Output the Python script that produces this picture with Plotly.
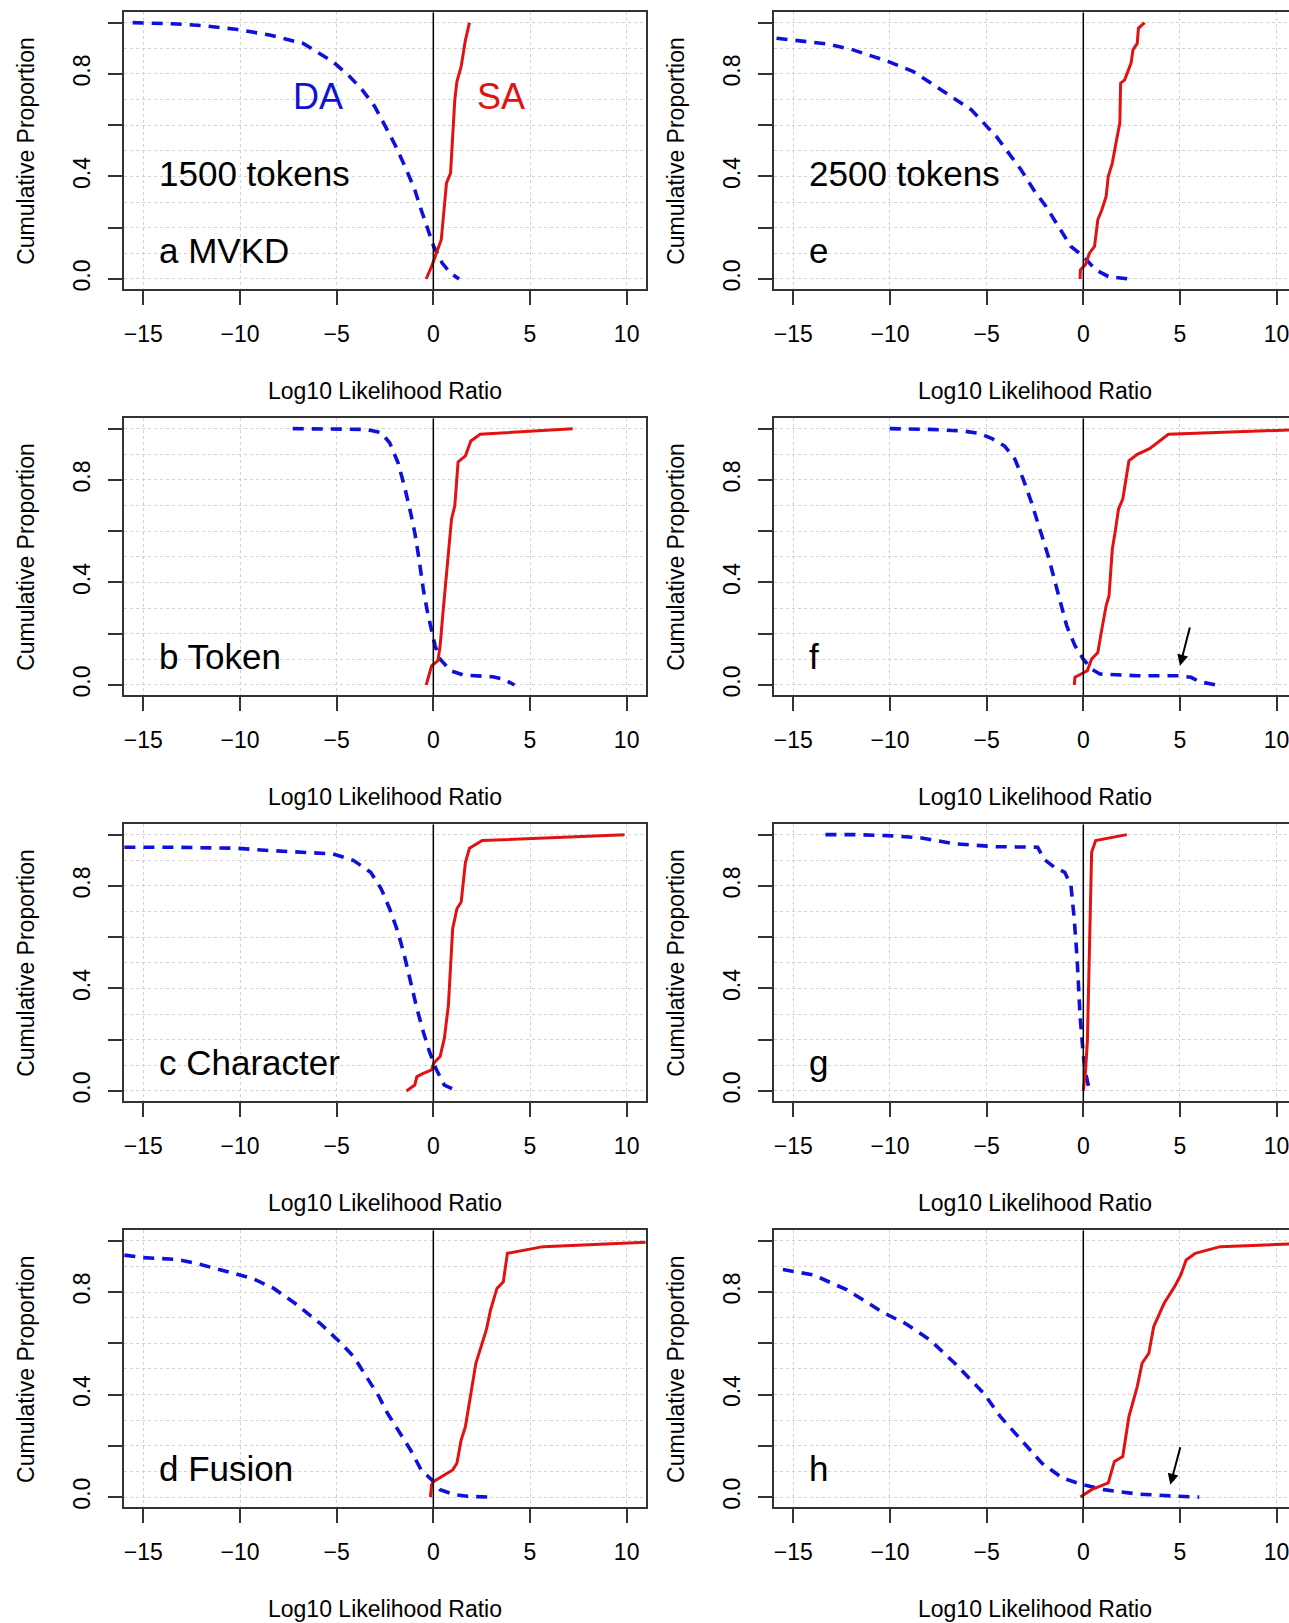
import plotly.graph_objects as go

FIG_W, FIG_H = 1289, 1623

X_TICKS = [-15, -10, -5, 0, 5, 10]
Y_TICKS = [0, 0.2, 0.4, 0.6, 0.8, 1.0]
Y_TICK_TEXT = ["0.0", "", "0.4", "", "0.8", ""]
Y_MINOR = [0.1, 0.3, 0.5, 0.7, 0.9]

PANEL_LABELS = ["a MVKD", "b Token", "c Character", "d Fusion", "e", "f", "g", "h"]
TOKEN_LABELS = ["1500 tokens", "2500 tokens"]
X_TITLE = "Log10 Likelihood Ratio"
Y_TITLE = "Cumulative Proportion"

# ---- panel a (MVKD, 1500 tokens)
A_DA_X = [-15.55, -13.26, -11.74, -10.21, -8.47, -6.73, -5.20, -4.33, -3.68, -3.03, -2.48, -1.94, -1.39, -0.96, -0.63, -0.30, 0.02, 0.46, 0.89, 1.33]
A_DA_Y = [1.0, 0.995, 0.987, 0.974, 0.952, 0.919, 0.848, 0.79, 0.738, 0.673, 0.595, 0.517, 0.426, 0.348, 0.27, 0.192, 0.127, 0.062, 0.023, 0.0]
A_SA_X = [-0.37, -0.09, 0.13, 0.41, 0.57, 0.68, 0.89, 1.0, 1.11, 1.22, 1.44, 1.66, 1.87]
A_SA_Y = [0.0, 0.049, 0.095, 0.153, 0.283, 0.374, 0.413, 0.569, 0.699, 0.77, 0.829, 0.932, 1.0]

# ---- panel b (Token, 1500 tokens)
B_DA_X = [-7.27, -3.46, -2.70, -2.26, -1.83, -1.50, -1.18, -0.96, -0.74, -0.52, -0.30, -0.09, 0.09, 0.35, 0.89, 1.55, 3.07, 3.62, 4.20]
B_DA_Y = [1.0, 0.997, 0.984, 0.945, 0.868, 0.777, 0.673, 0.595, 0.491, 0.374, 0.283, 0.218, 0.153, 0.101, 0.056, 0.039, 0.032, 0.023, 0.0]
B_SA_X = [-0.37, -0.09, 0.24, 0.35, 0.50, 0.68, 0.85, 0.94, 1.11, 1.28, 1.66, 1.87, 1.94, 2.42, 7.21]
B_SA_Y = [0.0, 0.075, 0.095, 0.153, 0.283, 0.439, 0.569, 0.647, 0.699, 0.87, 0.894, 0.932, 0.952, 0.978, 1.0]

# ---- panel c (Character, 1500 tokens)
C_DA_X = [-15.98, -13.70, -10.21, -8.47, -5.20, -4.12, -3.24, -2.70, -2.26, -1.83, -1.50, -1.18, -0.85, -0.52, -0.20, 0.13, 0.57, 1.22]
C_DA_Y = [0.951, 0.951, 0.947, 0.938, 0.925, 0.899, 0.853, 0.789, 0.711, 0.62, 0.529, 0.425, 0.322, 0.231, 0.153, 0.088, 0.023, 0.0]
C_SA_X = [-1.39, -0.96, -0.85, -0.52, -0.09, 0.02, 0.35, 0.57, 0.78, 1.0, 1.22, 1.44, 1.66, 1.87, 2.53, 9.89]
C_SA_Y = [0.0, 0.023, 0.056, 0.069, 0.082, 0.108, 0.134, 0.205, 0.335, 0.633, 0.711, 0.737, 0.892, 0.947, 0.977, 1.0]

# ---- panel d (Fusion, 1500 tokens)
D_DA_X = [-15.98, -15.0, -13.26, -12.39, -11.08, -9.34, -8.25, -7.16, -5.86, -4.77, -4.12, -3.46, -2.81, -2.37, -1.72, -1.18, -0.63, -0.09, 0.35, 1.11, 1.76, 2.96]
D_DA_Y = [0.944, 0.934, 0.927, 0.914, 0.888, 0.853, 0.814, 0.756, 0.678, 0.6, 0.548, 0.47, 0.392, 0.327, 0.249, 0.184, 0.106, 0.068, 0.029, 0.009, 0.003, 0.0]
D_SA_X = [-0.15, -0.09, 0.02, 0.46, 1.0, 1.22, 1.44, 1.66, 1.87, 2.20, 2.74, 2.96, 3.29, 3.62, 3.83, 5.68, 10.98]
D_SA_Y = [0.0, 0.048, 0.061, 0.081, 0.106, 0.132, 0.223, 0.275, 0.366, 0.522, 0.652, 0.73, 0.814, 0.84, 0.951, 0.977, 0.994]

# ---- panel e (MVKD, 2500 tokens)
E_DA_X = [-15.87, -14.37, -13.29, -12.0, -10.08, -8.79, -7.08, -5.79, -5.15, -4.50, -3.86, -3.22, -2.57, -1.93, -1.29, -0.64, 0.0, 0.64, 1.29, 2.36]
E_DA_Y = [0.939, 0.926, 0.917, 0.896, 0.848, 0.809, 0.725, 0.66, 0.608, 0.556, 0.491, 0.426, 0.348, 0.283, 0.205, 0.127, 0.088, 0.036, 0.01, 0.0]
E_SA_X = [-0.17, -0.15, 0.11, 0.32, 0.58, 0.75, 0.96, 1.18, 1.29, 1.50, 1.72, 1.89, 1.93, 2.14, 2.47, 2.57, 2.79, 2.85, 3.17]
E_SA_Y = [0.0, 0.036, 0.056, 0.101, 0.127, 0.231, 0.27, 0.322, 0.4, 0.452, 0.543, 0.608, 0.764, 0.777, 0.842, 0.894, 0.919, 0.978, 1.0]

# ---- panel f (Token, 2500 tokens)
F_DA_X = [-10.01, -7.93, -6.22, -5.36, -4.72, -4.07, -3.54, -3.11, -2.68, -2.25, -1.82, -1.50, -1.18, -0.86, -0.43, 0.0, 0.43, 0.86, 2.79, 4.93, 5.57, 6.0, 6.86]
F_DA_Y = [1.0, 0.997, 0.991, 0.981, 0.961, 0.932, 0.881, 0.803, 0.712, 0.608, 0.504, 0.413, 0.322, 0.231, 0.153, 0.101, 0.062, 0.043, 0.036, 0.036, 0.03, 0.013, 0.0]
F_SA_X = [-0.47, -0.43, -0.11, 0.21, 0.43, 0.75, 0.96, 1.18, 1.33, 1.50, 1.67, 1.82, 2.04, 2.36, 2.79, 3.43, 4.40, 10.68]
F_SA_Y = [0.0, 0.03, 0.043, 0.056, 0.101, 0.127, 0.218, 0.309, 0.348, 0.53, 0.608, 0.686, 0.725, 0.874, 0.9, 0.922, 0.978, 0.995]

# ---- panel g (Character, 2500 tokens)
G_DA_X = [-13.34, -11.79, -10.08, -8.36, -6.65, -4.50, -2.36, -2.04, -1.50, -0.96, -0.64, -0.47, -0.32, -0.17, 0.0, 0.11, 0.32]
G_DA_Y = [1.0, 1.0, 0.996, 0.987, 0.964, 0.953, 0.951, 0.905, 0.873, 0.853, 0.802, 0.672, 0.516, 0.296, 0.14, 0.075, 0.0]
G_SA_X = [0.0, 0.11, 0.21, 0.32, 0.43, 0.64, 2.25]
G_SA_Y = [0.0, 0.075, 0.192, 0.516, 0.931, 0.977, 1.0]

# ---- panel h (Fusion, 2500 tokens)
H_DA_X = [-15.54, -13.94, -12.22, -10.29, -9.22, -7.93, -6.65, -5.79, -5.15, -4.29, -3.22, -2.14, -1.07, 0.0, 1.07, 2.79, 4.93, 6.0]
H_DA_Y = [0.888, 0.866, 0.808, 0.717, 0.678, 0.613, 0.522, 0.457, 0.405, 0.314, 0.223, 0.132, 0.074, 0.048, 0.029, 0.012, 0.003, 0.0]
H_SA_X = [-0.15, 0.43, 1.29, 1.61, 2.04, 2.36, 2.79, 3.04, 3.39, 3.64, 4.18, 4.72, 5.04, 5.32, 5.79, 7.08, 10.68]
H_SA_Y = [0.0, 0.029, 0.055, 0.139, 0.158, 0.314, 0.431, 0.522, 0.561, 0.665, 0.756, 0.821, 0.866, 0.925, 0.951, 0.977, 0.987]

# arrows (tail x, tail y, head x, head y) in panels f and h
F_ARROW = [5.53, 0.23, 5.0, 0.075]
H_ARROW = [5.04, 0.20, 4.50, 0.048]

DA_LABEL = ["DA", -5.97, 0.712]
SA_LABEL = ["SA", 3.5, 0.712]

PANELS = [
    (A_DA_X, A_DA_Y, A_SA_X, A_SA_Y),
    (B_DA_X, B_DA_Y, B_SA_X, B_SA_Y),
    (C_DA_X, C_DA_Y, C_SA_X, C_SA_Y),
    (D_DA_X, D_DA_Y, D_SA_X, D_SA_Y),
    (E_DA_X, E_DA_Y, E_SA_X, E_SA_Y),
    (F_DA_X, F_DA_Y, F_SA_X, F_SA_Y),
    (G_DA_X, G_DA_Y, G_SA_X, G_SA_Y),
    (H_DA_X, H_DA_Y, H_SA_X, H_SA_Y),
]

# ---- styling / geometry
BLUE = "#1010dc"
RED = "#e21212"
AX = "#333333"
GRID = "#d2d2d2"
FONT = "Liberation Sans, Arial, Helvetica, sans-serif"

COL_PX = [(124.0, 646.0), (774.0, 1289.0)]
COL_RANGE = [[-16, 11], [-16, 10.64]]
ROW_TOP = [12.4, 418.9, 825.4, 1232.0]
BOX_H = 277.2

fig = go.Figure()
annotations = []
shapes = []

for i, (dx, dy, sx, sy) in enumerate(PANELS):
    col, row = i // 4, i % 4
    n = "" if i == 0 else str(i + 1)
    xa, ya = "x" + n, "y" + n
    x0p, x1p = COL_PX[col]
    top = ROW_TOP[row]
    bot = top + BOX_H
    xdom = [x0p / FIG_W, x1p / FIG_W]
    ydom = [1 - bot / FIG_H, 1 - top / FIG_H]

    fig.add_trace(go.Scatter(x=dx, y=dy, mode="lines", xaxis=xa, yaxis=ya,
                             line=dict(color=BLUE, width=3.6, dash="11px,8px"),
                             showlegend=False, hoverinfo="skip"))
    fig.add_trace(go.Scatter(x=sx, y=sy, mode="lines", xaxis=xa, yaxis=ya,
                             line=dict(color=RED, width=3),
                             showlegend=False, hoverinfo="skip"))

    fig.layout["xaxis" + n] = dict(
        domain=xdom, range=COL_RANGE[col], anchor=ya,
        tickmode="array", tickvals=X_TICKS,
        ticks="outside", ticklen=14, tickwidth=2, tickcolor=AX,
        showline=True, linecolor=AX, linewidth=2, mirror=True,
        showgrid=True, gridcolor=GRID, griddash="dot", gridwidth=1,
        zeroline=False, tickfont=dict(size=23, color="black", family=FONT),
        ticklabelstandoff=9, ticklabeloverflow="allow", fixedrange=True,
    )
    fig.layout["yaxis" + n] = dict(
        domain=ydom, range=[-0.04, 1.04], anchor=xa,
        tickmode="array", tickvals=Y_TICKS, ticktext=Y_TICK_TEXT, tickangle=-90,
        ticks="outside", ticklen=14, tickwidth=2, tickcolor=AX,
        showline=True, linecolor=AX, linewidth=2, mirror=(col == 0),
        showgrid=True, gridcolor=GRID, griddash="dot", gridwidth=1,
        minor=dict(tickmode="array", tickvals=Y_MINOR, showgrid=True,
                   gridcolor=GRID, griddash="dot", gridwidth=1, ticks=""),
        zeroline=False, tickfont=dict(size=23, color="black", family=FONT),
        ticklabelstandoff=9, fixedrange=True,
    )

    # vertical reference line at log10 LR = 0
    shapes.append(dict(type="line", xref=xa, yref=ya + " domain", x0=0, x1=0, y0=0, y1=1,
                       line=dict(color="black", width=1.5), layer="above"))

    # panel label
    annotations.append(dict(text=PANEL_LABELS[i], xref=xa, yref=ya, x=-14.3, y=0.113,
                            xanchor="left", yanchor="middle", showarrow=False,
                            font=dict(size=35, color="black", family=FONT)))
    if row == 0:
        annotations.append(dict(text=TOKEN_LABELS[col], xref=xa, yref=ya, x=-14.3, y=0.413,
                                xanchor="left", yanchor="middle", showarrow=False,
                                font=dict(size=35, color="black", family=FONT)))

    # axis titles
    xc = (x0p + (646.0 - 124.0) / 2) / FIG_W
    annotations.append(dict(text=X_TITLE, xref="paper", yref="paper",
                            x=xc, y=1 - (bot + 102) / FIG_H,
                            xanchor="center", yanchor="middle", showarrow=False,
                            font=dict(size=23, color="black", family=FONT)))
    annotations.append(dict(text=Y_TITLE, xref="paper", yref="paper",
                            x=(x0p - 98) / FIG_W, y=1 - (top + BOX_H / 2) / FIG_H,
                            xanchor="center", yanchor="middle", textangle=-90, showarrow=False,
                            font=dict(size=23, color="black", family=FONT)))

# DA / SA labels in panel a
annotations.append(dict(text=DA_LABEL[0], xref="x", yref="y", x=DA_LABEL[1], y=DA_LABEL[2],
                        showarrow=False, font=dict(size=36, color=BLUE, family=FONT)))
annotations.append(dict(text=SA_LABEL[0], xref="x", yref="y", x=SA_LABEL[1], y=SA_LABEL[2],
                        showarrow=False, font=dict(size=36, color=RED, family=FONT)))

# arrows in panels f (x6) and h (x8)
for arr, n in ((F_ARROW, "6"), (H_ARROW, "8")):
    annotations.append(dict(text="", xref="x" + n, yref="y" + n, axref="x" + n, ayref="y" + n,
                            ax=arr[0], ay=arr[1], x=arr[2], y=arr[3],
                            showarrow=True, arrowhead=2, arrowsize=1.1, arrowwidth=2,
                            arrowcolor="black"))

fig.update_layout(
    width=FIG_W, height=FIG_H, autosize=False,
    margin=dict(l=0, r=0, t=0, b=0),
    paper_bgcolor="white", plot_bgcolor="white",
    font=dict(family=FONT, color="black"),
    annotations=annotations, shapes=shapes, showlegend=False,
)

fig.write_html("out.html")
